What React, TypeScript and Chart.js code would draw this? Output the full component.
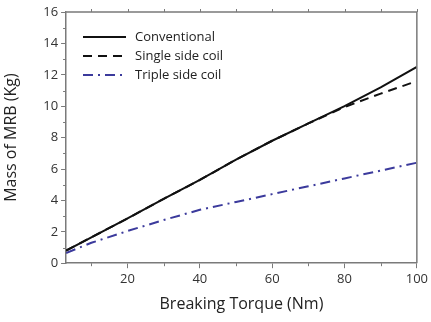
import React, { useEffect, useRef } from "react";
import { Chart, registerables } from "chart.js";

Chart.register(...registerables);

const torque = [3, 10, 20, 30, 40, 50, 60, 70, 80, 90, 100];
const conventional = [0.8, 1.65, 2.85, 4.1, 5.3, 6.6, 7.8, 8.9, 10.0, 11.2, 12.5];
const singleSide = [0.8, 1.65, 2.85, 4.1, 5.3, 6.6, 7.8, 8.9, 9.95, 10.8, 11.6];
const tripleSide = [0.65, 1.3, 2.05, 2.75, 3.4, 3.9, 4.4, 4.9, 5.4, 5.9, 6.4];
const xTickValues = [20, 40, 60, 80, 100];
const xMinorValues = [10, 30, 50, 70, 90];
const yMinorValues = [1, 3, 5, 7, 9, 11, 13, 15];

const AXIS = "#7a7a7a";
const FONT = "'Open Sans', 'Noto Sans', sans-serif";

const framePlugin = {
  id: "frame",
  afterDraw(chart: any) {
    const { ctx, chartArea, scales } = chart;
    const x = scales.x;
    const y = scales.y;
    ctx.save();
    ctx.strokeStyle = AXIS;
    ctx.lineWidth = 1.5;
    ctx.beginPath();
    ctx.moveTo(chartArea.left, chartArea.top);
    ctx.lineTo(chartArea.right, chartArea.top);
    ctx.lineTo(chartArea.right, chartArea.bottom);
    ctx.stroke();
    ctx.lineWidth = 1;
    ctx.beginPath();
    [...xTickValues, ...xMinorValues].forEach((v) => {
      const px = Math.round(x.getPixelForValue(v)) + 0.5;
      ctx.moveTo(px, chartArea.top);
      ctx.lineTo(px, chartArea.top - 3);
    });
    xMinorValues.forEach((v) => {
      const px = Math.round(x.getPixelForValue(v)) + 0.5;
      ctx.moveTo(px, chartArea.bottom);
      ctx.lineTo(px, chartArea.bottom + 3);
    });
    yMinorValues.forEach((v) => {
      const py = Math.round(y.getPixelForValue(v)) + 0.5;
      ctx.moveTo(chartArea.left, py);
      ctx.lineTo(chartArea.left - 3, py);
    });
    ctx.stroke();
    ctx.restore();
  },
};

const legendPlugin = {
  id: "customLegend",
  afterDraw(chart: any) {
    const { ctx } = chart;
    ctx.save();
    chart.data.datasets.forEach((ds: any, i: number) => {
      const yy = 37 + i * 19;
      ctx.strokeStyle = ds.borderColor;
      ctx.lineWidth = 2.2;
      ctx.setLineDash(ds.borderDash || []);
      ctx.beginPath();
      ctx.moveTo(83, yy);
      ctx.lineTo(126, yy);
      ctx.stroke();
      ctx.setLineDash([]);
      ctx.fillStyle = "#222";
      ctx.font = `13px ${FONT}`;
      ctx.textBaseline = "middle";
      ctx.textAlign = "left";
      ctx.fillText(ds.label, 135, yy);
    });
    ctx.restore();
  },
};

export default function App() {
  const ref = useRef<HTMLCanvasElement>(null);
  useEffect(() => {
    document.body.style.margin = "0";
    const chart = new Chart(ref.current!, {
      type: "line",
      data: {
        datasets: [
          {
            label: "Conventional",
            data: torque.map((t, i) => ({ x: t, y: conventional[i] })),
            borderColor: "#111111",
            borderWidth: 2,
            pointRadius: 0,
            tension: 0,
          },
          {
            label: "Single side coil",
            data: torque.map((t, i) => ({ x: t, y: singleSide[i] })),
            borderColor: "#111111",
            borderWidth: 2,
            borderDash: [9, 6],
            pointRadius: 0,
            tension: 0,
          },
          {
            label: "Triple side coil",
            data: torque.map((t, i) => ({ x: t, y: tripleSide[i] })),
            borderColor: "#3b3a9c",
            borderWidth: 2,
            borderDash: [10, 5, 2, 5],
            pointRadius: 0,
            tension: 0,
          },
        ],
      },
      options: {
        animation: false,
        responsive: false,
        layout: { padding: { top: 12, right: 9, left: 2, bottom: 8 } },
        plugins: { legend: { display: false }, tooltip: { enabled: false } },
        scales: {
          x: {
            type: "linear",
            min: 3,
            max: 100,
            afterBuildTicks: (axis: any) => {
              axis.ticks = xTickValues.map((v) => ({ value: v }));
            },
            grid: { drawOnChartArea: false, drawTicks: true, tickLength: 5, color: AXIS },
            border: { display: true, color: AXIS, width: 1.5 },
            ticks: { color: "#333", font: { family: FONT, size: 13 }, padding: 3 },
            title: {
              display: true,
              text: "Breaking Torque (Nm)",
              color: "#222",
              font: { family: FONT, size: 16 },
              padding: { top: 5, bottom: 0 },
            },
          },
          y: {
            min: 0,
            max: 16,
            ticks: { stepSize: 2, color: "#333", font: { family: FONT, size: 13 }, padding: 3 },
            grid: { drawOnChartArea: false, drawTicks: true, tickLength: 5, color: AXIS },
            border: { display: true, color: AXIS, width: 1.5 },
            title: {
              display: true,
              text: "Mass of MRB (Kg)",
              color: "#222",
              font: { family: FONT, size: 16 },
              padding: { top: 0, bottom: 19 },
            },
          },
        },
      },
      plugins: [framePlugin, legendPlugin],
    });
    return () => chart.destroy();
  }, []);
  return (
    <div style={{ position: "absolute", left: 0, top: 0, width: 431, height: 322 }}>
      <canvas ref={ref} width={431} height={322} />
    </div>
  );
}
